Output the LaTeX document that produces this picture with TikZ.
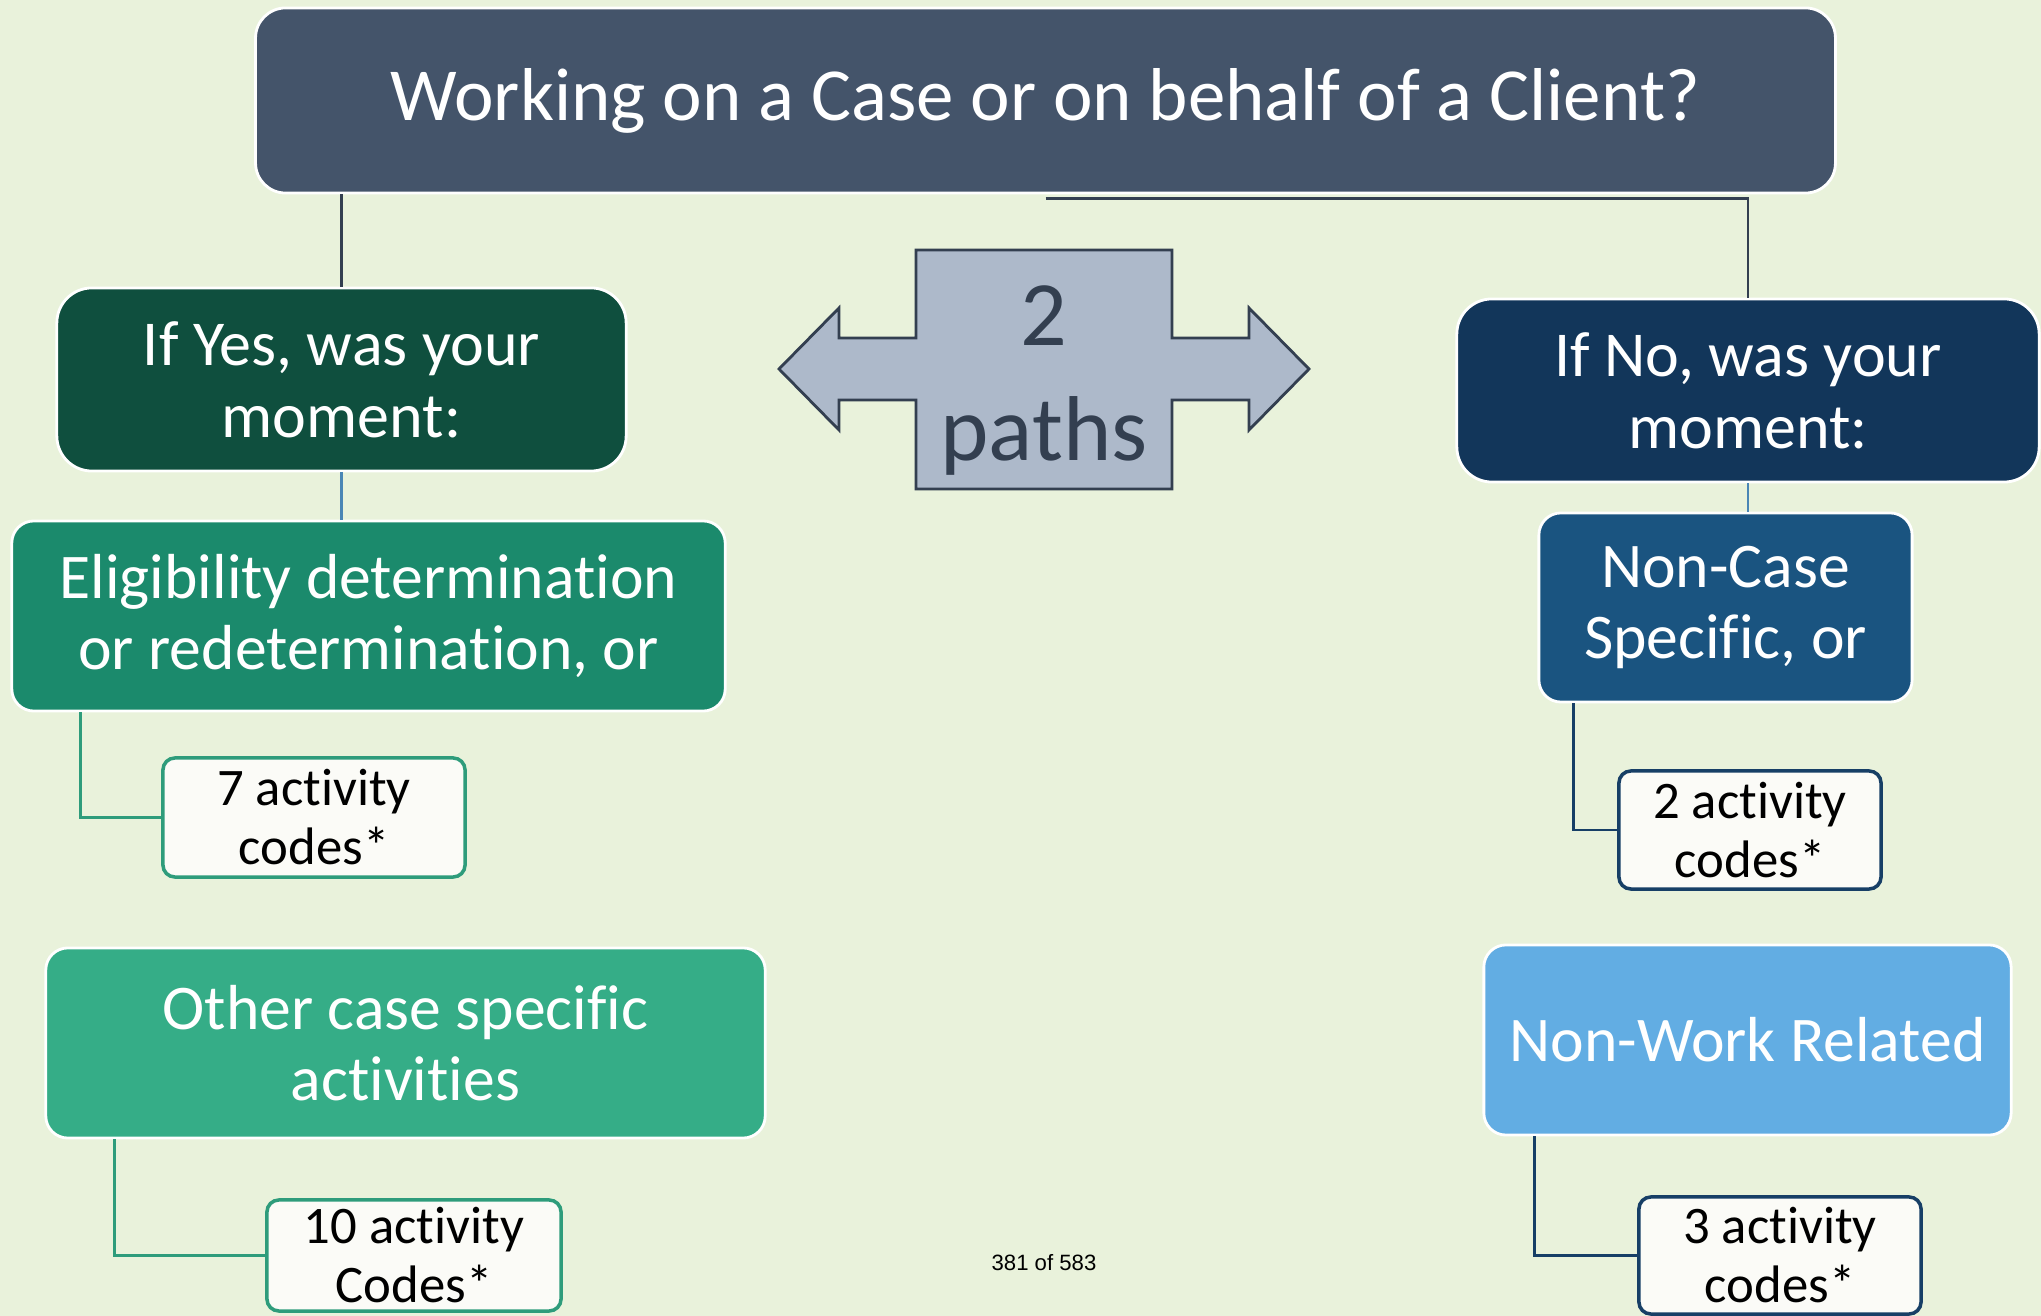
\documentclass[tikz,border=0pt]{standalone}
\usepackage{fontspec}
\setmainfont{Carlito}[Ligatures=NoCommon]
\newfontfamily\pagefont{Liberation Sans}
\usepackage{tikz}

\definecolor{bgcol}{HTML}{E9F2DB}
\definecolor{qcol}{HTML}{44546A}
\definecolor{yescol}{HTML}{0F4F3E}
\definecolor{nocol}{HTML}{12365A}
\definecolor{eligcol}{HTML}{1B8A6C}
\definecolor{othercol}{HTML}{35AD87}
\definecolor{noncasecol}{HTML}{1A5480}
\definecolor{nonworkcol}{HTML}{62ADE3}
\definecolor{codefill}{HTML}{FBFBF7}
\definecolor{tealline}{HTML}{2E9C7B}
\definecolor{navyline}{HTML}{173F66}
\definecolor{blueline}{HTML}{4A86B5}
\definecolor{arrowfill}{HTML}{ADB9CA}
\definecolor{arrowline}{HTML}{333F50}

\begin{document}
\begin{tikzpicture}[x=0.01cm,y=-0.01cm]
\tikzstyle{box} = [rectangle, draw=white, line width=0.8pt, text=white, align=center, inner sep=0pt]
\tikzstyle{head} = [box, fill=qcol, rounded corners=0.3cm, minimum width=15.79cm, minimum height=1.85cm,
                    font=\fontsize{21.3}{25}\selectfont]
\tikzstyle{branch} = [box, rounded corners=0.35cm, minimum width=5.69cm, minimum height=1.83cm,
                      font=\fontsize{18.2}{20.5}\selectfont]
\tikzstyle{moment} = [box, rounded corners=0.22cm, minimum height=1.9cm,
                      font=\fontsize{18.1}{20}\selectfont]
\tikzstyle{codes} = [rectangle, rounded corners=0.12cm, fill=codefill, line width=1pt, text=black,
                     align=center, inner sep=0pt, font=\fontsize{15}{16.8}\selectfont]
\tikzstyle{topline} = [draw=arrowline, line width=0.7pt]
\tikzstyle{downline} = [draw=blueline, line width=0.7pt]
\tikzstyle{elbow} = [line width=0.8pt]

\fill[bgcol] (0,0) rectangle (2041,1316);
\useasboundingbox (0,0) rectangle (2041,1316);

% question and the two answers
\node[head] (case) at (1045.5,100.5) {Working on a Case or on behalf of a Client?};
\node[branch, fill=yescol] (yes) at (341.5,379.5) {If Yes, was your\\moment:};
\node[branch, fill=nocol, minimum width=5.82cm] (no) at (1748,390.5) {If No, was your\\moment:};

% yes side
\node[moment, fill=eligcol, minimum width=7.13cm] (elig) at (368.5,616) {Eligibility determination\\or redetermination, or};
\node[codes, draw=tealline, minimum width=3.02cm, minimum height=1.19cm] (seven) at (314,817.5) {7 activity\\codes*};
\node[moment, fill=othercol, minimum width=7.19cm] (other) at (405.5,1043) {Other case specific\\activities};
\node[codes, draw=tealline, minimum width=2.94cm, minimum height=1.11cm] (ten) at (414,1255.5) {10 activity\\Codes*};

% no side
\node[moment, fill=noncasecol, minimum width=3.73cm, minimum height=1.89cm] (noncase) at (1725.5,607.5) {Non-Case\\Specific, or};
\node[codes, draw=navyline, minimum width=2.62cm, minimum height=1.18cm] (two) at (1750,830) {2 activity\\codes*};
\node[moment, fill=nonworkcol, minimum width=5.27cm] (nonwork) at (1747.5,1040) {Non-Work Related};
\node[codes, draw=navyline, minimum width=2.82cm, minimum height=1.17cm] (three) at (1780,1255.5) {3 activity\\codes*};

% double arrow in the middle
\draw[fill=arrowfill, draw=arrowline, line width=0.8pt]
  (916,250) -- (1172,250) -- (1172,338) -- (1249,338) -- (1249,308) -- (1309,369)
  -- (1249,430) -- (1249,400) -- (1172,400) -- (1172,489) -- (916,489) -- (916,400)
  -- (839,400) -- (839,430) -- (779,369) -- (839,308) -- (839,338) -- (916,338) -- cycle;
\node[text=arrowline, align=center, font=\fontsize{26.2}{32.7}\selectfont] (paths) at (1044,381) {2\\paths};

\node[font=\pagefont\fontsize{6.3}{7}\selectfont] (page) at (1044,1263) {381 of 583};

% connectors
\draw[topline] (yes.north) -- (yes.north |- case.south);
\draw[topline] ([yshift=-0.04cm]case.south) -| (no.north);
\draw[downline] (yes.south) -- (yes.south |- elig.north);
\draw[downline] (no.south) -- (no.south |- noncase.north);
\draw[elbow, tealline] (seven.west) -| ([xshift=0.7cm]elig.south west);
\draw[elbow, tealline] (ten.west) -| ([xshift=0.7cm]other.south west);
\draw[elbow, navyline] (two.west) -| ([xshift=0.36cm]noncase.south west);
\draw[elbow, navyline] (three.west) -| ([xshift=0.52cm]nonwork.south west);
\end{tikzpicture}
\end{document}
